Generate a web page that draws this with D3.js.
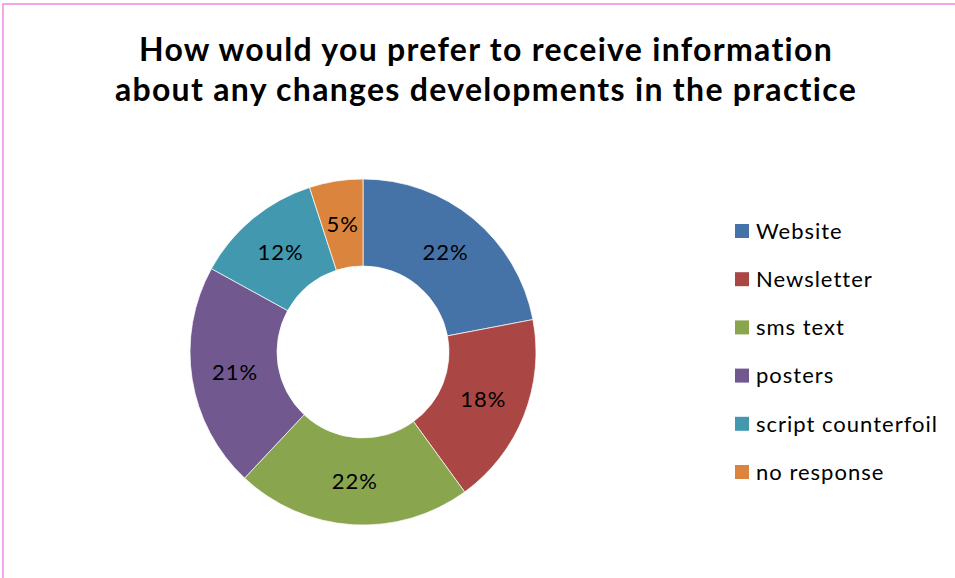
<!DOCTYPE html>
<html><head><meta charset="utf-8">
<script src="https://cdn.jsdelivr.net/npm/d3@7"></script>
<style>body{margin:0;background:#fff;} svg{display:block;}</style>
</head><body>
<svg id="chart" width="955" height="578"></svg>
<script>
const categories = ["Website","Newsletter","sms text","posters","script counterfoil","no response"];
const values = [22,18,22,21,12,5];
const colors = ["#4572A7","#AA4643","#89A54E","#71588F","#4198AF","#DB843D"];
const titleLines = ["How would you prefer to receive information","about any changes developments in the practice"];

const svg = d3.select("#chart");
const font = "Lato, 'Open Sans', sans-serif";

svg.append("path").attr("d","M3,578 V4 H955").attr("fill","none").attr("stroke","#F4A6EA").attr("stroke-width",2);

svg.append("g").selectAll("text").data(titleLines).join("text")
  .attr("x",486).attr("y",(d,i)=>61+i*40).attr("text-anchor","middle")
  .attr("font-family",font).attr("font-weight","bold").attr("font-size",32)
  .attr("letter-spacing",1.3).attr("fill","#000").text(d=>d);

const cx=363, cy=352, R=173, r=86;
const pie = d3.pie().sort(null).value(d=>d);
const arcs = pie(values);
const arc = d3.arc().innerRadius(r).outerRadius(R);
const labelArc = d3.arc().innerRadius((r+R)/2).outerRadius((r+R)/2);
const total = d3.sum(values);
const g = svg.append("g").attr("transform",`translate(${cx},${cy})`);
g.selectAll("path").data(arcs).join("path").attr("d",arc)
  .attr("fill",(d,i)=>colors[i]).attr("stroke","#fff").attr("stroke-width",0.7);
g.selectAll("text").data(arcs).join("text")
  .attr("transform",d=>`translate(${labelArc.centroid(d)})`)
  .attr("text-anchor","middle").attr("dy","0.35em")
  .attr("font-family",font).attr("font-size",22).attr("letter-spacing",1).attr("fill","#000")
  .text(d=>Math.round(d.value/total*100)+"%");

const leg = svg.append("g").attr("transform","translate(735,231)");
const rows = leg.selectAll("g").data(categories).join("g").attr("transform",(d,i)=>`translate(0,${i*48.2})`);
rows.append("rect").attr("x",0).attr("y",-7).attr("width",14).attr("height",14).attr("fill",(d,i)=>colors[i]);
rows.append("text").attr("x",21).attr("y",0).attr("dy","0.35em")
  .attr("font-family",font).attr("font-size",22).attr("letter-spacing",1).attr("fill","#000").text(d=>d);
</script>
</body></html>
